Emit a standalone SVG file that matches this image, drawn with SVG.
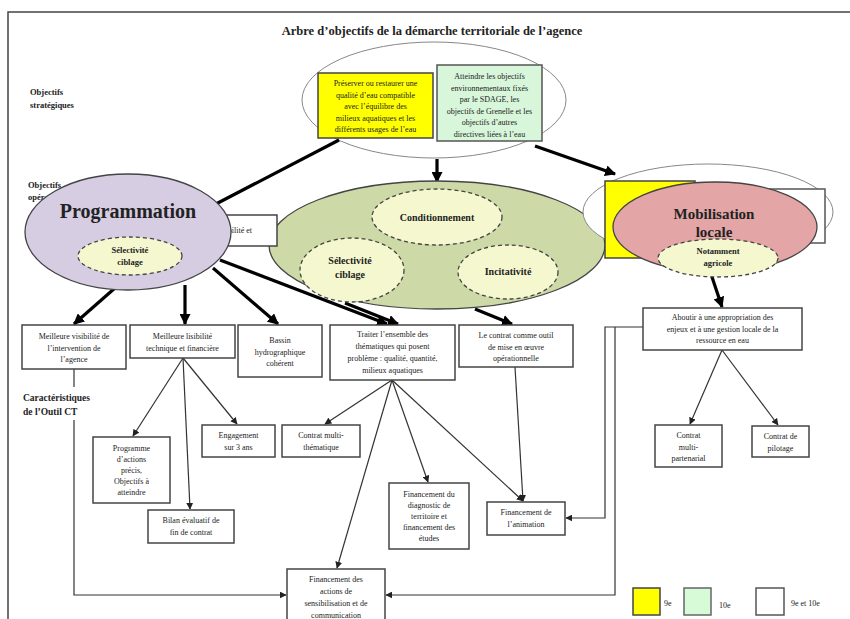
<svg xmlns="http://www.w3.org/2000/svg" width="850" height="619" viewBox="0 0 850 619">
<defs>
<marker id="ah" viewBox="0 0 10 10" refX="9" refY="5" markerWidth="11" markerHeight="11" markerUnits="userSpaceOnUse" orient="auto"><path d="M0,0 L10,5 L0,10 z" fill="#000"/></marker>
<marker id="as" viewBox="0 0 10 10" refX="9" refY="5" markerWidth="7" markerHeight="7" markerUnits="userSpaceOnUse" orient="auto"><path d="M0,0 L10,5 L0,10 z" fill="#222"/></marker>
</defs>
<style>
text{font-family:"Liberation Serif","Times New Roman",serif;fill:#222}
.t{font-size:8px;text-anchor:middle}
.b{font-weight:bold}
.box{fill:#fff;stroke:#444;stroke-width:1.5}
.thick{stroke:#000;stroke-width:3.2;fill:none;marker-end:url(#ah)}
.thickN{stroke:#000;stroke-width:3.2;fill:none}
.thin{stroke:#333;stroke-width:1.2;fill:none}
.thinA{stroke:#333;stroke-width:1.2;fill:none;marker-end:url(#as)}
.inner{fill:#f5f8cf;stroke:#444;stroke-width:1.3;stroke-dasharray:4,3}
</style>
<rect x="8" y="12" width="860" height="630" fill="#fff" stroke="#444" stroke-width="1.5"/>
<text x="432" y="35" class="b" font-size="12.5" text-anchor="middle">Arbre d’objectifs de la démarche territoriale de l’agence</text>
<text x="30" y="95" class="b" font-size="8.5">Objectifs</text>
<text x="30" y="108" class="b" font-size="8.5">stratégiques</text>
<text x="28" y="188" class="b" font-size="8.5">Objectifs</text>
<text x="28" y="200" class="b" font-size="8.5">opérationnels</text>
<text x="23" y="401" class="b" font-size="9.5">Caractéristiques</text>
<text x="23" y="415" class="b" font-size="9.5">de l’Outil CT</text>

<g id="strategic">
<ellipse cx="434" cy="100" rx="132" ry="58" fill="#fff" stroke="#888" stroke-width="1"/>
<rect x="318" y="73" width="115" height="65" fill="#ffff00" stroke="#444" stroke-width="1.5"/>
<text class="t" x="375.5" y="86"><tspan x="375.5">Préserver ou restaurer une</tspan><tspan x="375.5" dy="11.5">qualité d’eau compatible</tspan><tspan x="375.5" dy="11.5">avec l’équilibre des</tspan><tspan x="375.5" dy="11.5">milieux aquatiques et les</tspan><tspan x="375.5" dy="11.5">différents usages de l’eau</tspan></text>
<rect x="437" y="65" width="105" height="76" fill="#d8f6da" stroke="#555" stroke-width="1.5"/>
<text class="t" x="489.5" y="79"><tspan x="489.5">Atteindre les objectifs</tspan><tspan x="489.5" dy="11.5">environnementaux fixés</tspan><tspan x="489.5" dy="11.5">par le SDAGE, les</tspan><tspan x="489.5" dy="11.5">objectifs de Grenelle et les</tspan><tspan x="489.5" dy="11.5">objectifs d’autres</tspan><tspan x="489.5" dy="11.5">directives liées à l’eau</tspan></text>
</g>

<g id="connectors">
<line class="thickN" x1="339" y1="140" x2="214" y2="205"/>
<line class="thick" x1="437" y1="159" x2="437" y2="182"/>
<line class="thick" x1="535" y1="146" x2="615" y2="174"/>
<line class="thick" x1="115" y1="288" x2="74" y2="324"/>
<line class="thick" x1="185" y1="285" x2="185" y2="324"/>
<line class="thick" x1="213" y1="268" x2="278" y2="324"/>
<line class="thick" x1="220" y1="260" x2="387" y2="324"/>
<line class="thick" x1="345" y1="303" x2="398" y2="324"/>
<line class="thick" x1="475" y1="309" x2="512" y2="324"/>
<line class="thick" x1="711" y1="274" x2="722" y2="307"/>
<line class="thinA" x1="183" y1="358" x2="133" y2="436"/>
<line class="thinA" x1="183" y1="358" x2="190" y2="509"/>
<line class="thinA" x1="183" y1="358" x2="237" y2="424"/>
<line class="thinA" x1="392" y1="380" x2="325" y2="424"/>
<line class="thinA" x1="392" y1="380" x2="337" y2="568"/>
<line class="thinA" x1="392" y1="380" x2="428" y2="482"/>
<line class="thinA" x1="392" y1="380" x2="523" y2="501"/>
<line class="thinA" x1="515" y1="367" x2="523" y2="501"/>
<line class="thin" x1="74" y1="369" x2="74" y2="387"/>
<polyline class="thinA" points="74,420 74,595 286,595"/>
<polyline class="thinA" points="643,327 605,327 605,518 566,518"/>
<polyline class="thinA" points="615,327 615,595 386,595"/>
<line class="thinA" x1="722" y1="350" x2="690" y2="424"/>
<line class="thinA" x1="722" y1="350" x2="778" y2="425"/>
</g>

<g id="conditionnalite">
<ellipse cx="437" cy="245" rx="168" ry="64" fill="#cddaa8" stroke="#444" stroke-width="1.3"/>
<ellipse class="inner" cx="437" cy="217" rx="65" ry="28"/>
<text x="437" y="221" class="b" font-size="10" text-anchor="middle">Conditionnement</text>
<ellipse class="inner" cx="352" cy="270" rx="52" ry="32"/>
<text x="350" y="264" class="b" font-size="10" text-anchor="middle">Sélectivité</text>
<text x="350" y="278" class="b" font-size="10" text-anchor="middle">ciblage</text>
<ellipse class="inner" cx="508" cy="272" rx="50" ry="27"/>
<text x="508" y="275" class="b" font-size="10" text-anchor="middle">Incitativité</text>
</g>

<g id="hidden-box">
<rect x="170" y="215" width="107" height="31" class="box"/>
<text x="252" y="233" font-size="8" text-anchor="end">lisibilité et</text>
</g>

<g id="programmation">
<ellipse cx="128" cy="232" rx="103" ry="58" fill="#d6cde3" stroke="#444" stroke-width="1.3"/>
<text x="128" y="218" class="b" font-size="20" text-anchor="middle" fill="#333">Programmation</text>
<ellipse class="inner" cx="130" cy="256" rx="52" ry="19"/>
<text x="130" y="253" class="b" font-size="8.5" text-anchor="middle">Sélectivité</text>
<text x="130" y="265" class="b" font-size="8.5" text-anchor="middle">ciblage</text>
</g>

<g id="mobilisation">
<ellipse cx="708" cy="212" rx="125" ry="48" fill="#fff" stroke="#888" stroke-width="1"/>
<rect x="690" y="189" width="135" height="54" fill="#fff" stroke="#555" stroke-width="1.5"/>
<rect x="605" y="181" width="90" height="77" fill="#ffff00" stroke="#444" stroke-width="1.5"/>
<ellipse cx="715" cy="227" rx="102" ry="45" fill="#e3a5a5" stroke="#444" stroke-width="1.3"/>
<text x="714" y="219" class="b" font-size="15" text-anchor="middle" fill="#333">Mobilisation</text>
<text x="714" y="237" class="b" font-size="15" text-anchor="middle" fill="#333">locale</text>
<ellipse class="inner" cx="718" cy="258" rx="60" ry="19"/>
<text x="718" y="254" class="b" font-size="8.5" text-anchor="middle">Notamment</text>
<text x="718" y="266" class="b" font-size="8.5" text-anchor="middle">agricole</text>
</g>

<g id="n-visibilite"><rect class="box" x="22" y="325" width="104" height="44"/>
<text class="t" x="74" y="339"><tspan x="74">Meilleure visibilité de</tspan><tspan x="74" dy="11.5">l’intervention de</tspan><tspan x="74" dy="11.5">l’agence</tspan></text></g>
<g id="n-lisibilite"><rect class="box" x="130" y="325" width="105" height="33"/>
<text class="t" x="182.5" y="339"><tspan x="182.5">Meilleure lisibilité</tspan><tspan x="182.5" dy="11.5">technique et financière</tspan></text></g>
<g id="n-bassin"><rect class="box" x="238" y="325" width="84" height="52"/>
<text class="t" x="280" y="343"><tspan x="280">Bassin</tspan><tspan x="280" dy="11.5">hydrographique</tspan><tspan x="280" dy="11.5">cohérent</tspan></text></g>
<g id="n-traiter"><rect class="box" x="330" y="325" width="125" height="55"/>
<text class="t" x="392.5" y="337"><tspan x="392.5">Traiter l’ensemble des</tspan><tspan x="392.5" dy="12">thématiques qui posent</tspan><tspan x="392.5" dy="12">problème : qualité, quantité,</tspan><tspan x="392.5" dy="12">milieux aquatiques</tspan></text></g>
<g id="n-contrat"><rect class="box" x="459" y="325" width="114" height="42"/>
<text class="t" x="516" y="338"><tspan x="516">Le contrat comme outil</tspan><tspan x="516" dy="11.5">de mise en œuvre</tspan><tspan x="516" dy="11.5">opérationnelle</tspan></text></g>
<g id="n-aboutir"><rect class="box" x="643" y="308" width="159" height="42"/>
<text class="t" x="722.5" y="320"><tspan x="722.5">Aboutir à une appropriation des</tspan><tspan x="722.5" dy="11.5">enjeux et à une gestion locale de la</tspan><tspan x="722.5" dy="11.5">ressource en eau</tspan></text></g>
<g id="n-programme"><rect class="box" x="93" y="437" width="77" height="66"/>
<text class="t" x="131.5" y="451"><tspan x="131.5">Programme</tspan><tspan x="131.5" dy="11">d’actions</tspan><tspan x="131.5" dy="11">précis,</tspan><tspan x="131.5" dy="11">Objectifs à</tspan><tspan x="131.5" dy="11">atteindre</tspan></text></g>
<g id="n-engagement"><rect class="box" x="202" y="425" width="73" height="32"/>
<text class="t" x="238.5" y="438"><tspan x="238.5">Engagement</tspan><tspan x="238.5" dy="11.5">sur 3 ans</tspan></text></g>
<g id="n-bilan"><rect class="box" x="148" y="510" width="86" height="33"/>
<text class="t" x="191" y="523"><tspan x="191">Bilan évaluatif de</tspan><tspan x="191" dy="11.5">fin de contrat</tspan></text></g>
<g id="n-multitheme"><rect class="box" x="282" y="425" width="78" height="32"/>
<text class="t" x="321" y="438"><tspan x="321">Contrat multi-</tspan><tspan x="321" dy="11.5">thématique</tspan></text></g>
<g id="n-diagnostic"><rect class="box" x="389" y="483" width="80" height="66"/>
<text class="t" x="429" y="497"><tspan x="429">Financement du</tspan><tspan x="429" dy="11">diagnostic de</tspan><tspan x="429" dy="11">territoire et</tspan><tspan x="429" dy="11">financement des</tspan><tspan x="429" dy="11">études</tspan></text></g>
<g id="n-animation"><rect class="box" x="487" y="502" width="78" height="33"/>
<text class="t" x="526" y="515"><tspan x="526">Financement de</tspan><tspan x="526" dy="11.5">l’animation</tspan></text></g>
<g id="n-sensibilisation"><rect class="box" x="287" y="569" width="98" height="62"/>
<text class="t" x="336" y="582"><tspan x="336">Financement des</tspan><tspan x="336" dy="12">actions de</tspan><tspan x="336" dy="12">sensibilisation et de</tspan><tspan x="336" dy="12">communication</tspan></text></g>
<g id="n-multipart"><rect class="box" x="655" y="425" width="67" height="42"/>
<text class="t" x="688.5" y="438"><tspan x="688.5">Contrat</tspan><tspan x="688.5" dy="11.5">multi-</tspan><tspan x="688.5" dy="11.5">partenarial</tspan></text></g>
<g id="n-pilotage"><rect class="box" x="752" y="426" width="57" height="31"/>
<text class="t" x="780.5" y="439"><tspan x="780.5">Contrat de</tspan><tspan x="780.5" dy="11.5">pilotage</tspan></text></g>

<g id="legend">
<rect x="633" y="588" width="27" height="27" fill="#ffff00" stroke="#444" stroke-width="1.5"/>
<text x="664" y="606" font-size="8">9e</text>
<rect x="684" y="588" width="27" height="27" fill="#d6fbd6" stroke="#666" stroke-width="1.5"/>
<text x="719" y="608" font-size="8">10e</text>
<rect x="756" y="588" width="28" height="27" fill="#fff" stroke="#555" stroke-width="1.5"/>
<text x="791" y="606" font-size="8">9e et 10e</text>
</g>
</svg>
